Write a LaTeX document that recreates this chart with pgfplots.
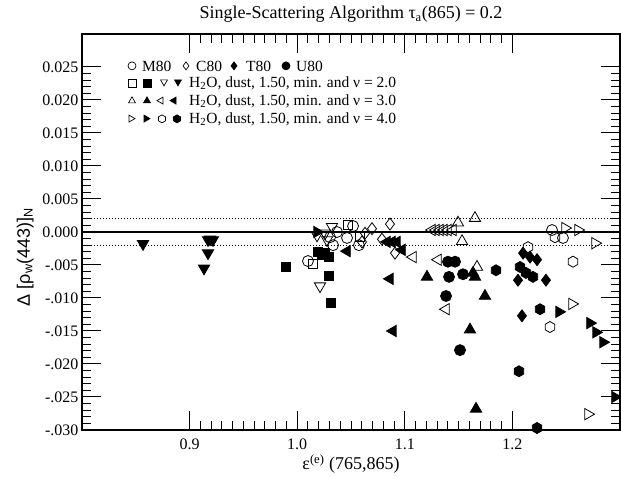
\documentclass[border=0pt]{standalone}
\usepackage{fontspec}
\setmainfont{Liberation Serif}
\newfontfamily\lsans{Liberation Sans}
\usepackage{pgfplots}
\pgfplotsset{compat=1.18}
\usetikzlibrary{calc}

% hexagon marks (pointy top)
\pgfdeclareplotmark{hexagon}{%
  \pgfpathmoveto{\pgfqpointpolar{90}{\pgfplotmarksize}}%
  \pgfpathlineto{\pgfqpointpolar{150}{\pgfplotmarksize}}%
  \pgfpathlineto{\pgfqpointpolar{210}{\pgfplotmarksize}}%
  \pgfpathlineto{\pgfqpointpolar{270}{\pgfplotmarksize}}%
  \pgfpathlineto{\pgfqpointpolar{330}{\pgfplotmarksize}}%
  \pgfpathlineto{\pgfqpointpolar{30}{\pgfplotmarksize}}%
  \pgfpathclose\pgfusepathqstroke}
\pgfdeclareplotmark{hexagon*}{%
  \pgfpathmoveto{\pgfqpointpolar{90}{\pgfplotmarksize}}%
  \pgfpathlineto{\pgfqpointpolar{150}{\pgfplotmarksize}}%
  \pgfpathlineto{\pgfqpointpolar{210}{\pgfplotmarksize}}%
  \pgfpathlineto{\pgfqpointpolar{270}{\pgfplotmarksize}}%
  \pgfpathlineto{\pgfqpointpolar{330}{\pgfplotmarksize}}%
  \pgfpathlineto{\pgfqpointpolar{30}{\pgfplotmarksize}}%
  \pgfpathclose\pgfusepathqfillstroke}

\pgfplotsset{
  pt/.style={only marks, black, fill=black, line width=0.8pt, mark size=5.5pt},
  tri/.style={only marks, black, fill=black, line width=0.8pt, mark size=6.5pt,
              mark options={solid, rotate=#1}},
  tri/.default=0,
}
% legend icons
\newcommand{\mk}[2][0]{\tikz[baseline=-0.6ex]{\begin{scope}[rotate=#1, line width=0.7pt, fill=black]\pgfsetplotmarksize{4pt}\pgfuseplotmark{#2}\end{scope}}}
\newcommand{\lfont}{\fontsize{15.5}{17}\selectfont}

\begin{document}
\begin{tikzpicture}
\begin{axis}[
    name=main,
    scale only axis,
    width=538pt, height=396pt,
    xmin=0.8, xmax=1.3, ymin=-0.03, ymax=0.03,
    scaled ticks=false,
    xtick={0.9,1.0,1.1,1.2},
    xticklabels={0.9,1.0,1.1,1.2},
    minor x tick num=9,
    ytick={-0.03,-0.025,-0.02,-0.015,-0.01,-0.005,0,0.005,0.01,0.015,0.02,0.025},
    yticklabels={-.030,-.025,-.020,-.015,-.010,-.005,0.000,0.005,0.010,0.015,0.020,0.025},
    minor y tick num=4,
    tick align=inside, tick pos=both,
    major tick length=19pt, minor tick length=9pt,
    every tick/.style={black, line width=1pt},
    axis line style={line width=1.4pt},
    tick label style={font=\fontsize{16}{18}\selectfont},
    xticklabel style={yshift=-5pt},
    title={Single-Scattering Algorithm τ\textsubscript{a}(865) = 0.2},
    title style={font=\fontsize{18}{20}\selectfont, yshift=2pt},
    xlabel={ε\textsuperscript{(e)} (765,865)},
    xlabel style={font=\fontsize{18}{20}\selectfont, yshift=2pt},
    ylabel={\lsans Δ [ρ\textsubscript{w}(443)]\textsubscript{N}},
    ylabel style={font=\fontsize{18}{20}\selectfont, yshift=2pt, xshift=-25pt},
]
% reference lines
\addplot[black, line width=1.2pt] coordinates {(0.8,0) (1.3,0)};
\addplot[black, dotted, line width=1pt] coordinates {(0.8,0.002) (1.3,0.002)};
\addplot[black, dotted, line width=1pt] coordinates {(0.8,-0.002) (1.3,-0.002)};

% M80
\addplot[pt, mark=o] coordinates {
 (1.010,-0.0044) (1.0519,0.0009) (1.0463,-0.0009) (1.0574,-0.0020)
 (1.0333,-0.0020) (1.0370,0.0000) (1.0305,-0.0008) (1.2368,0.0003) (1.2470,-0.0009)};
% C80
\addplot[pt, mark=diamond, mark size=6pt] coordinates {
 (1.0862,0.0012) (1.0695,0.0005) (1.0630,-0.0002) (1.0788,-0.0011)
 (1.0909,-0.0032) (1.0602,-0.0015)};
% T80
\addplot[pt, mark=diamond*, mark size=6pt] coordinates {
 (1.2099,-0.0032) (1.2164,-0.0038) (1.2229,-0.0042) (1.2052,-0.0073)
 (1.2312,-0.0073) (1.2089,-0.0127)};
% U80
\addplot[pt, mark=*] coordinates {
 (1.1401,-0.0045) (1.1467,-0.0045) (1.1411,-0.0068) (1.1383,-0.0097)
 (1.1513,-0.0179) (1.1541,-0.0064)};

% nu = 2.0
\addplot[pt, mark=square, mark size=4.5pt] coordinates {
 (1.0147,-0.0048) (1.0472,0.0011) (1.0584,-0.0008)};
\addplot[pt, mark=square*, mark size=4.5pt] coordinates {
 (0.9896,-0.0053) (1.0193,-0.0030) (1.0230,-0.0035) (1.0258,-0.0032)
 (1.0296,-0.0038) (1.0296,-0.0067) (1.0314,-0.0108)};
\addplot[tri=180, mark=triangle] coordinates {
 (1.0212,-0.0082) (1.0323,0.0008) (1.0184,-0.0005) (1.0258,-0.0002) (1.0277,-0.0012)};
\addplot[tri=180, mark=triangle*] coordinates {
 (0.8567,-0.0018) (0.9171,-0.0012) (0.9190,-0.0011) (0.9217,-0.0012)
 (0.9171,-0.0032) (0.9134,-0.0055)};

% nu = 3.0
\addplot[tri, mark=triangle] coordinates {
 (1.1494,0.0014) (1.1652,0.0021) (1.1532,-0.0014) (1.1671,-0.0053)};
\addplot[tri, mark=triangle*] coordinates {
 (1.1206,-0.0068) (1.1652,-0.0068) (1.1634,-0.0062) (1.1745,-0.0097)
 (1.1606,-0.0148) (1.1662,-0.0268)};
\addplot[tri=90, mark=triangle] coordinates {
 (1.1076,-0.0038) (1.1253,0.0003) (1.1290,0.0003) (1.1327,0.0003)
 (1.1364,0.0003) (1.1401,0.0003) (1.1448,0.0003) (1.1309,-0.0042) (1.1383,-0.0117)};
\addplot[tri=90, mark=triangle*] coordinates {
 (1.0463,-0.0029) (1.0835,-0.0015) (1.0881,-0.0015) (1.0927,-0.0015)
 (1.0974,-0.0027) (1.0862,-0.0071) (1.0890,-0.0150)};

% nu = 4.0
\addplot[tri=-90, mark=triangle] coordinates {
 (1.2489,0.0006) (1.2610,0.0003) (1.2768,-0.0017) (1.2554,-0.0109) (1.2703,-0.0276)};
\addplot[tri=-90, mark=triangle*] coordinates {
 (1.0184,0.0000) (1.2433,-0.0121) (1.2721,-0.0138) (1.2777,-0.0152)
 (1.2842,-0.0167) (1.2953,-0.0250)};
\addplot[pt, mark=hexagon] coordinates {
 (1.2396,-0.0008) (1.2145,-0.0023) (1.2563,-0.0045) (1.2349,-0.0144)};
\addplot[pt, mark=hexagon*] coordinates {
 (1.1848,-0.0058) (1.2071,-0.0053) (1.2126,-0.0062) (1.2191,-0.0068)
 (1.2257,-0.0117) (1.2061,-0.0211) (1.2229,-0.0297)};
\end{axis}

% legend (positions relative to the top-left corner of the axis box)
\begin{scope}[shift={(main.north west)}, every node/.style={inner sep=0pt, font=\lfont}]
  \node at (50pt,-32pt) {\mk{o}};           \node[anchor=west] at (60pt,-32pt) {M80};
  \node at (104pt,-32pt) {\mk{diamond}};    \node[anchor=west] at (114pt,-32pt) {C80};
  \node at (152pt,-32pt) {\mk{diamond*}};   \node[anchor=west] at (164pt,-32pt) {T80};
  \node at (204pt,-32pt) {\mk{*}};          \node[anchor=west] at (214pt,-32pt) {U80};

  \node at (50pt,-49pt) {\mk{square}};      \node at (65pt,-49pt) {\mk{square*}};
  \node at (82pt,-49pt) {\mk[180]{triangle}}; \node at (96pt,-49pt) {\mk[180]{triangle*}};
  \node[anchor=west] at (107pt,-49pt) {H\textsubscript{2}O, dust, 1.50, min. and ν = 2.0};

  \node at (50pt,-67pt) {\mk{triangle}};    \node at (65pt,-67pt) {\mk{triangle*}};
  \node at (78pt,-67pt) {\mk[90]{triangle}}; \node at (91pt,-67pt) {\mk[90]{triangle*}};
  \node[anchor=west] at (107pt,-67pt) {H\textsubscript{2}O, dust, 1.50, min. and ν = 3.0};

  \node at (50pt,-85pt) {\mk[-90]{triangle}}; \node at (65pt,-85pt) {\mk[-90]{triangle*}};
  \node at (80pt,-85pt) {\mk{hexagon}};     \node at (95pt,-85pt) {\mk{hexagon*}};
  \node[anchor=west] at (107pt,-85pt) {H\textsubscript{2}O, dust, 1.50, min. and ν = 4.0};
\end{scope}

\pgfresetboundingbox
\path[use as bounding box] ($(main.south west)+(-82pt,-49pt)$) rectangle ($(main.north east)+(1pt,34pt)$);
\end{tikzpicture}
\end{document}
